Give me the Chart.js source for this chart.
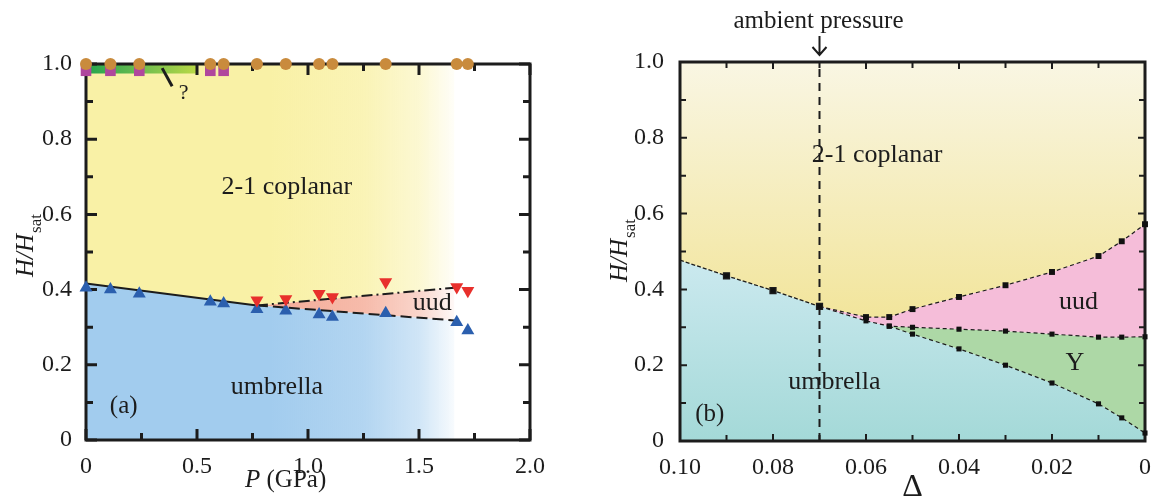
<!DOCTYPE html>
<html>
<head>
<meta charset="utf-8">
<script src="https://cdn.jsdelivr.net/npm/chart.js@4.4.0/dist/chart.umd.min.js"></script>
<style>
  html, body { margin: 0; padding: 0; background: #fff; }
  #wrap { position: relative; width: 1155px; height: 500px; }
  #phaseA { position: absolute; left: 0; top: 0; }
  #phaseB { position: absolute; left: 560px; top: 0; }
</style>
</head>
<body>
<div id="wrap">
  <canvas id="phaseA" width="560" height="500"></canvas>
  <canvas id="phaseB" width="595" height="500"></canvas>
</div>
<script>
// ---- panel (a): H/Hsat vs pressure ----
const pressureGPa = [0, 0.11, 0.24, 0.56, 0.62, 0.77, 0.90, 1.05, 1.11, 1.35, 1.67, 1.72];
const satH = [1, 1, 1, 1, 1, 1, 1, 1, 1, 1, 1, 1];
const umbrellaH = [0.405, 0.40, 0.389, 0.368, 0.363, 0.348, 0.344, 0.334, 0.327, 0.337, 0.313, 0.291];
const squareP = [0, 0.11, 0.24, 0.56, 0.62];
const squareH = [0.982, 0.982, 0.982, 0.982, 0.982];
const uudP = [0.77, 0.90, 1.05, 1.11, 1.35, 1.67, 1.72];
const uudH = [0.372, 0.375, 0.389, 0.38, 0.42, 0.407, 0.397];
const solidP = [0, 0.77];
const solidH = [0.416, 0.358];
const dashDotP = [0.77, 1.66];
const dashDotH = [0.358, 0.405];
const dashedP = [0.77, 1.66];
const dashedH = [0.358, 0.318];
const greenP = [0, 0.5];
const greenTopH = [1.0, 1.0];
const greenBotH = [0.975, 0.975];
const pTickMarks = [0, 0.25, 0.5, 0.75, 1, 1.25, 1.5, 1.75, 2];
const hTickMarks = [0, 0.1, 0.2, 0.3, 0.4, 0.5, 0.6, 0.7, 0.8, 0.9, 1];

// ---- panel (b): H/Hsat vs Delta ----
const umbD = [0.10, 0.09, 0.08, 0.07];
const umbH = [0.477, 0.436, 0.397, 0.355];
const uudTopD = [0.07, 0.06, 0.055, 0.05, 0.04, 0.03, 0.02, 0.01, 0.005, 0];
const uudTopH = [0.355, 0.327, 0.327, 0.348, 0.38, 0.411, 0.446, 0.488, 0.527, 0.572];
const uudBotD = [0.07, 0.06, 0.055, 0.05, 0.04, 0.03, 0.02, 0.01, 0.005, 0];
const uudBotH = [0.355, 0.317, 0.303, 0.30, 0.295, 0.29, 0.282, 0.274, 0.274, 0.275];
const yBotD = [0.055, 0.05, 0.04, 0.03, 0.02, 0.01, 0.005, 0];
const yBotH = [0.303, 0.282, 0.243, 0.20, 0.153, 0.098, 0.061, 0.021];
const ambientD = [0.07, 0.07];
const ambientH = [0, 1];
const dTickMarks = [0, 0.01, 0.02, 0.03, 0.04, 0.05, 0.06, 0.07, 0.08, 0.09, 0.1];

const serif = "'Liberation Serif', 'Times New Roman', Times, serif";
const ink = '#1c1c1c';
const pts = (xs, ys) => xs.map((x, i) => ({ x: x, y: ys[i] }));
const isMajor = (v, step) => Math.abs(v / step - Math.round(v / step)) < 1e-6;

function drawFrame(chart, cfg) {
  const { ctx, chartArea: a } = chart;
  const xs = chart.scales.x, ys = chart.scales.y;
  ctx.save();
  ctx.strokeStyle = ink;
  ctx.lineWidth = cfg.tickWidth;
  ctx.beginPath();
  cfg.xMarks.forEach(v => {
    const p = xs.getPixelForValue(v);
    const len = isMajor(v, cfg.xMajor) ? cfg.major : cfg.minor;
    ctx.moveTo(p, a.bottom); ctx.lineTo(p, a.bottom - len);
    ctx.moveTo(p, a.top); ctx.lineTo(p, a.top + len);
  });
  cfg.yMarks.forEach(v => {
    const p = ys.getPixelForValue(v);
    const len = isMajor(v, cfg.yMajor) ? cfg.major : cfg.minor;
    ctx.moveTo(a.left, p); ctx.lineTo(a.left + len, p);
    ctx.moveTo(a.right, p); ctx.lineTo(a.right - len, p);
  });
  ctx.stroke();
  ctx.lineWidth = cfg.frameWidth;
  ctx.strokeRect(a.left, a.top, a.right - a.left, a.bottom - a.top);
  ctx.restore();
}

// frame goes over the fills but under the markers
function makeDecor(cfg) {
  let framed = false;
  return {
    id: 'decor',
    beforeDatasetsDraw() { framed = false; },
    beforeDatasetDraw(chart, args) {
      if (!framed && args.meta.order === 1) { drawFrame(chart, cfg); framed = true; }
    },
    afterDatasetsDraw(chart) { if (!framed) { drawFrame(chart, cfg); framed = true; } },
    afterDraw(chart) { cfg.draw(chart); }
  };
}

function label(chart, text, xv, yv, size) {
  const ctx = chart.ctx;
  ctx.save();
  ctx.font = size + 'px ' + serif;
  ctx.fillStyle = ink;
  ctx.textAlign = 'center';
  ctx.textBaseline = 'middle';
  ctx.fillText(text, chart.scales.x.getPixelForValue(xv), chart.scales.y.getPixelForValue(yv));
  ctx.restore();
}

function hTitle(ctx, x, yBottom) {
  ctx.save();
  ctx.translate(x, yBottom);
  ctx.rotate(-Math.PI / 2);
  ctx.fillStyle = ink;
  ctx.textAlign = 'left';
  ctx.textBaseline = 'alphabetic';
  ctx.font = 'italic 25px ' + serif;
  ctx.fillText('H/H', 0, 0);
  const w = ctx.measureText('H/H').width;
  ctx.font = '17px ' + serif;
  ctx.fillText('sat', w + 1, 8);
  ctx.restore();
}

function fadeRight(c, rgb) {
  const chart = c.chart;
  const xs = chart.scales.x;
  if (!chart.chartArea || !xs) return 'rgba(' + rgb + ',1)';
  const g = chart.ctx.createLinearGradient(xs.getPixelForValue(0), 0, xs.getPixelForValue(1.67), 0);
  g.addColorStop(0, 'rgba(' + rgb + ',1)');
  g.addColorStop(0.5, 'rgba(' + rgb + ',1)');
  g.addColorStop(0.75, 'rgba(' + rgb + ',0.82)');
  g.addColorStop(0.9, 'rgba(' + rgb + ',0.5)');
  g.addColorStop(1, 'rgba(' + rgb + ',0.05)');
  return g;
}

function vGrad(c, from, to, vTop, vBot) {
  const chart = c.chart;
  const ys = chart.scales.y;
  if (!chart.chartArea || !ys) return to;
  const g = chart.ctx.createLinearGradient(0, ys.getPixelForValue(vTop), 0, ys.getPixelForValue(vBot));
  g.addColorStop(0, from);
  g.addColorStop(1, to);
  return g;
}

const tickFont = { family: serif, size: 24 };
const hidden = 'rgba(0,0,0,0)';

function fillSet(data, fill, bg) {
  return { data: data, fill: fill, backgroundColor: bg, borderColor: hidden, borderWidth: 0,
           pointRadius: 0, showLine: true, order: 2 };
}

// ---------- chart (a) ----------
new Chart(document.getElementById('phaseA').getContext('2d'), {
  type: 'line',
  data: {
    datasets: [
      { data: pts(pressureGPa, satH), showLine: false, pointStyle: 'circle', pointRadius: 6,
        backgroundColor: '#c98b3d', borderWidth: 0, clip: false, order: 1 },
      { data: pts(squareP, squareH), showLine: false, pointStyle: 'rect', pointRadius: 7.5,
        backgroundColor: '#b0479d', borderWidth: 0, clip: false, order: 1 },
      { data: pts(uudP, uudH), showLine: false, pointStyle: 'triangle', rotation: 180, pointRadius: 7.5,
        backgroundColor: '#e8302c', borderWidth: 0, clip: false, order: 1 },
      { data: pts(pressureGPa, umbrellaH), showLine: false, pointStyle: 'triangle', pointRadius: 7.5,
        backgroundColor: '#2b5fae', borderWidth: 0, clip: false, order: 1 },
      { data: pts(solidP, solidH), showLine: true, pointRadius: 0, borderColor: ink, borderWidth: 2, order: 1 },
      { data: pts(dashDotP, dashDotH), showLine: true, pointRadius: 0, borderColor: ink, borderWidth: 2,
        borderDash: [11, 4, 2, 4], order: 1 },
      { data: pts(dashedP, dashedH), showLine: true, pointRadius: 0, borderColor: ink, borderWidth: 2,
        borderDash: [11, 5], order: 1 },
      fillSet(pts(greenP, greenTopH), 8, c => {
        const xs = c.chart.scales.x;
        if (!c.chart.chartArea) return '#6cbd4d';
        const g = c.chart.ctx.createLinearGradient(xs.getPixelForValue(0), 0, xs.getPixelForValue(0.5), 0);
        g.addColorStop(0, '#22a54c');
        g.addColorStop(0.45, '#66ba50');
        g.addColorStop(1, '#bad946');
        return g;
      }),
      fillSet(pts(greenP, greenBotH), false, hidden),
      fillSet(pts(solidP, solidH).concat(pts(dashDotP, dashDotH).slice(1)), 'end', c => fadeRight(c, '249,241,166')),
      fillSet(pts(solidP, solidH).concat(pts(dashedP, dashedH).slice(1)), 'start', c => fadeRight(c, '162,204,238')),
      fillSet(pts(dashDotP, dashDotH), 6, c => fadeRight(c, '244,172,152'))
    ]
  },
  options: {
    responsive: false,
    animation: false,
    devicePixelRatio: 1,
    events: [],
    layout: { padding: { left: 0, right: 30, top: 64, bottom: 0 } },
    plugins: { legend: { display: false }, tooltip: { enabled: false } },
    elements: { line: { tension: 0 } },
    scales: {
      x: {
        type: 'linear', min: 0, max: 2,
        grid: { display: false }, border: { display: false },
        ticks: { stepSize: 0.5, font: tickFont, color: ink, padding: 4, maxRotation: 0,
                 callback: v => v === 0 ? '0' : v.toFixed(1) },
        afterFit: s => { s.height = 60; }
      },
      y: {
        min: 0, max: 1,
        grid: { display: false }, border: { display: false },
        ticks: { stepSize: 0.2, font: tickFont, color: ink, padding: 6,
                 callback: v => v === 0 ? '0' : v.toFixed(1) },
        afterFit: s => { s.width = 86; }
      }
    }
  },
  plugins: [makeDecor({
    xMarks: pTickMarks, yMarks: hTickMarks, xMajor: 0.5, yMajor: 0.2,
    major: 11, minor: 7, tickWidth: 3, frameWidth: 3,
    draw(chart) {
      const ctx = chart.ctx;
      label(chart, '2-1 coplanar', 0.905, 0.673, 26);
      label(chart, 'umbrella', 0.86, 0.141, 26);
      label(chart, 'uud', 1.56, 0.364, 26);
      label(chart, '(a)', 0.17, 0.088, 25);
      label(chart, '?', 0.44, 0.922, 22);
      const xs = chart.scales.x, ys = chart.scales.y;
      ctx.save();
      ctx.strokeStyle = ink;
      ctx.lineWidth = 3;
      ctx.beginPath();
      ctx.moveTo(xs.getPixelForValue(0.343), ys.getPixelForValue(0.989));
      ctx.lineTo(xs.getPixelForValue(0.388), ys.getPixelForValue(0.941));
      ctx.stroke();
      // axis titles
      ctx.fillStyle = ink;
      ctx.textBaseline = 'alphabetic';
      ctx.textAlign = 'left';
      ctx.font = 'italic 25px ' + serif;
      ctx.fillText('P', 245, 487);
      const pw = ctx.measureText('P').width;
      ctx.font = '25px ' + serif;
      ctx.fillText(' (GPa)', 245 + pw, 487);
      ctx.restore();
      hTitle(ctx, 33, 277);
    }
  })]
});

// ---------- chart (b) ----------
new Chart(document.getElementById('phaseB').getContext('2d'), {
  type: 'line',
  data: {
    datasets: [
      { data: pts(umbD, umbH), showLine: true, borderColor: ink, borderWidth: 1.3, borderDash: [4, 2],
        pointStyle: 'rect', pointRadius: c => c.dataIndex === 0 ? 0 : 4.2, backgroundColor: '#111',
        clip: false, order: 1 },
      { data: pts(uudTopD, uudTopH), showLine: true, borderColor: ink, borderWidth: 1.2, borderDash: [4, 3],
        pointStyle: 'rect', pointRadius: 4.2, pointBorderWidth: 0, backgroundColor: '#111', clip: false, order: 1 },
      { data: pts(uudBotD, uudBotH), showLine: true, borderColor: ink, borderWidth: 1.2, borderDash: [4, 3],
        pointStyle: 'rect', pointRadius: 3.6, pointBorderWidth: 0, backgroundColor: '#111', clip: false, order: 1 },
      { data: pts(yBotD, yBotH), showLine: true, borderColor: ink, borderWidth: 1.2, borderDash: [4, 3],
        pointStyle: 'rect', pointRadius: 3.6, pointBorderWidth: 0, backgroundColor: '#111', clip: false, order: 1 },
      { data: pts(ambientD, ambientH), showLine: true, pointRadius: 0, borderColor: ink, borderWidth: 2,
        borderDash: [8, 6], order: 2 },
      fillSet(pts(uudTopD, uudTopH), 2, '#f5bdd9'),
      fillSet(pts(uudBotD, uudBotH), 3, '#add8a6'),
      fillSet(pts(umbD, umbH).concat(pts(uudTopD, uudTopH).slice(1)), 'end',
        c => vGrad(c, '#f9f6e3', '#f2e59c', 1, 0.33)),
      fillSet(pts(umbD, umbH).concat(pts(uudBotD, uudBotH).slice(1, 2), pts(yBotD, yBotH)), 'start',
        c => vGrad(c, '#cbe9ef', '#a4d9d8', 0.48, 0))
    ]
  },
  options: {
    responsive: false,
    animation: false,
    devicePixelRatio: 1,
    events: [],
    layout: { padding: { left: 0, right: 8, top: 62, bottom: 0 } },
    plugins: { legend: { display: false }, tooltip: { enabled: false } },
    elements: { line: { tension: 0 } },
    scales: {
      x: {
        type: 'linear', min: 0, max: 0.1, reverse: true,
        grid: { display: false }, border: { display: false },
        ticks: { stepSize: 0.02, font: tickFont, color: ink, padding: 4, maxRotation: 0,
                 callback: v => Math.abs(v) < 1e-9 ? '0' : v.toFixed(2) },
        afterFit: s => { s.height = 59; }
      },
      y: {
        min: 0, max: 1,
        grid: { display: false }, border: { display: false },
        ticks: { stepSize: 0.2, font: tickFont, color: ink, padding: 8,
                 callback: v => v === 0 ? '0' : v.toFixed(1) },
        afterFit: s => { s.width = 120; }
      }
    }
  },
  plugins: [makeDecor({
    xMarks: dTickMarks, yMarks: hTickMarks, xMajor: 0.02, yMajor: 0.2,
    major: 7, minor: 6, tickWidth: 2, frameWidth: 3,
    draw(chart) {
      const ctx = chart.ctx;
      label(chart, '2-1 coplanar', 0.0576, 0.755, 26);
      label(chart, 'umbrella', 0.0668, 0.156, 26);
      label(chart, 'uud', 0.0143, 0.367, 26);
      label(chart, 'Y', 0.0151, 0.206, 26);
      label(chart, '(b)', 0.0936, 0.069, 25);
      const ax = chart.scales.x.getPixelForValue(0.07);
      ctx.save();
      ctx.fillStyle = ink;
      ctx.textAlign = 'center';
      ctx.textBaseline = 'alphabetic';
      ctx.font = '25px ' + serif;
      ctx.fillText('ambient pressure', ax - 1, 28);
      ctx.strokeStyle = ink;
      ctx.lineWidth = 2;
      ctx.beginPath();
      ctx.moveTo(ax, 36); ctx.lineTo(ax, 55);
      ctx.moveTo(ax - 7, 47); ctx.lineTo(ax, 55); ctx.lineTo(ax + 7, 47);
      ctx.stroke();
      ctx.font = '32px ' + serif;
      ctx.fillText('\u0394', (chart.chartArea.left + chart.chartArea.right) / 2, 496);
      ctx.restore();
      hTitle(ctx, 67, 282);
    }
  })]
});
</script>
</body>
</html>
